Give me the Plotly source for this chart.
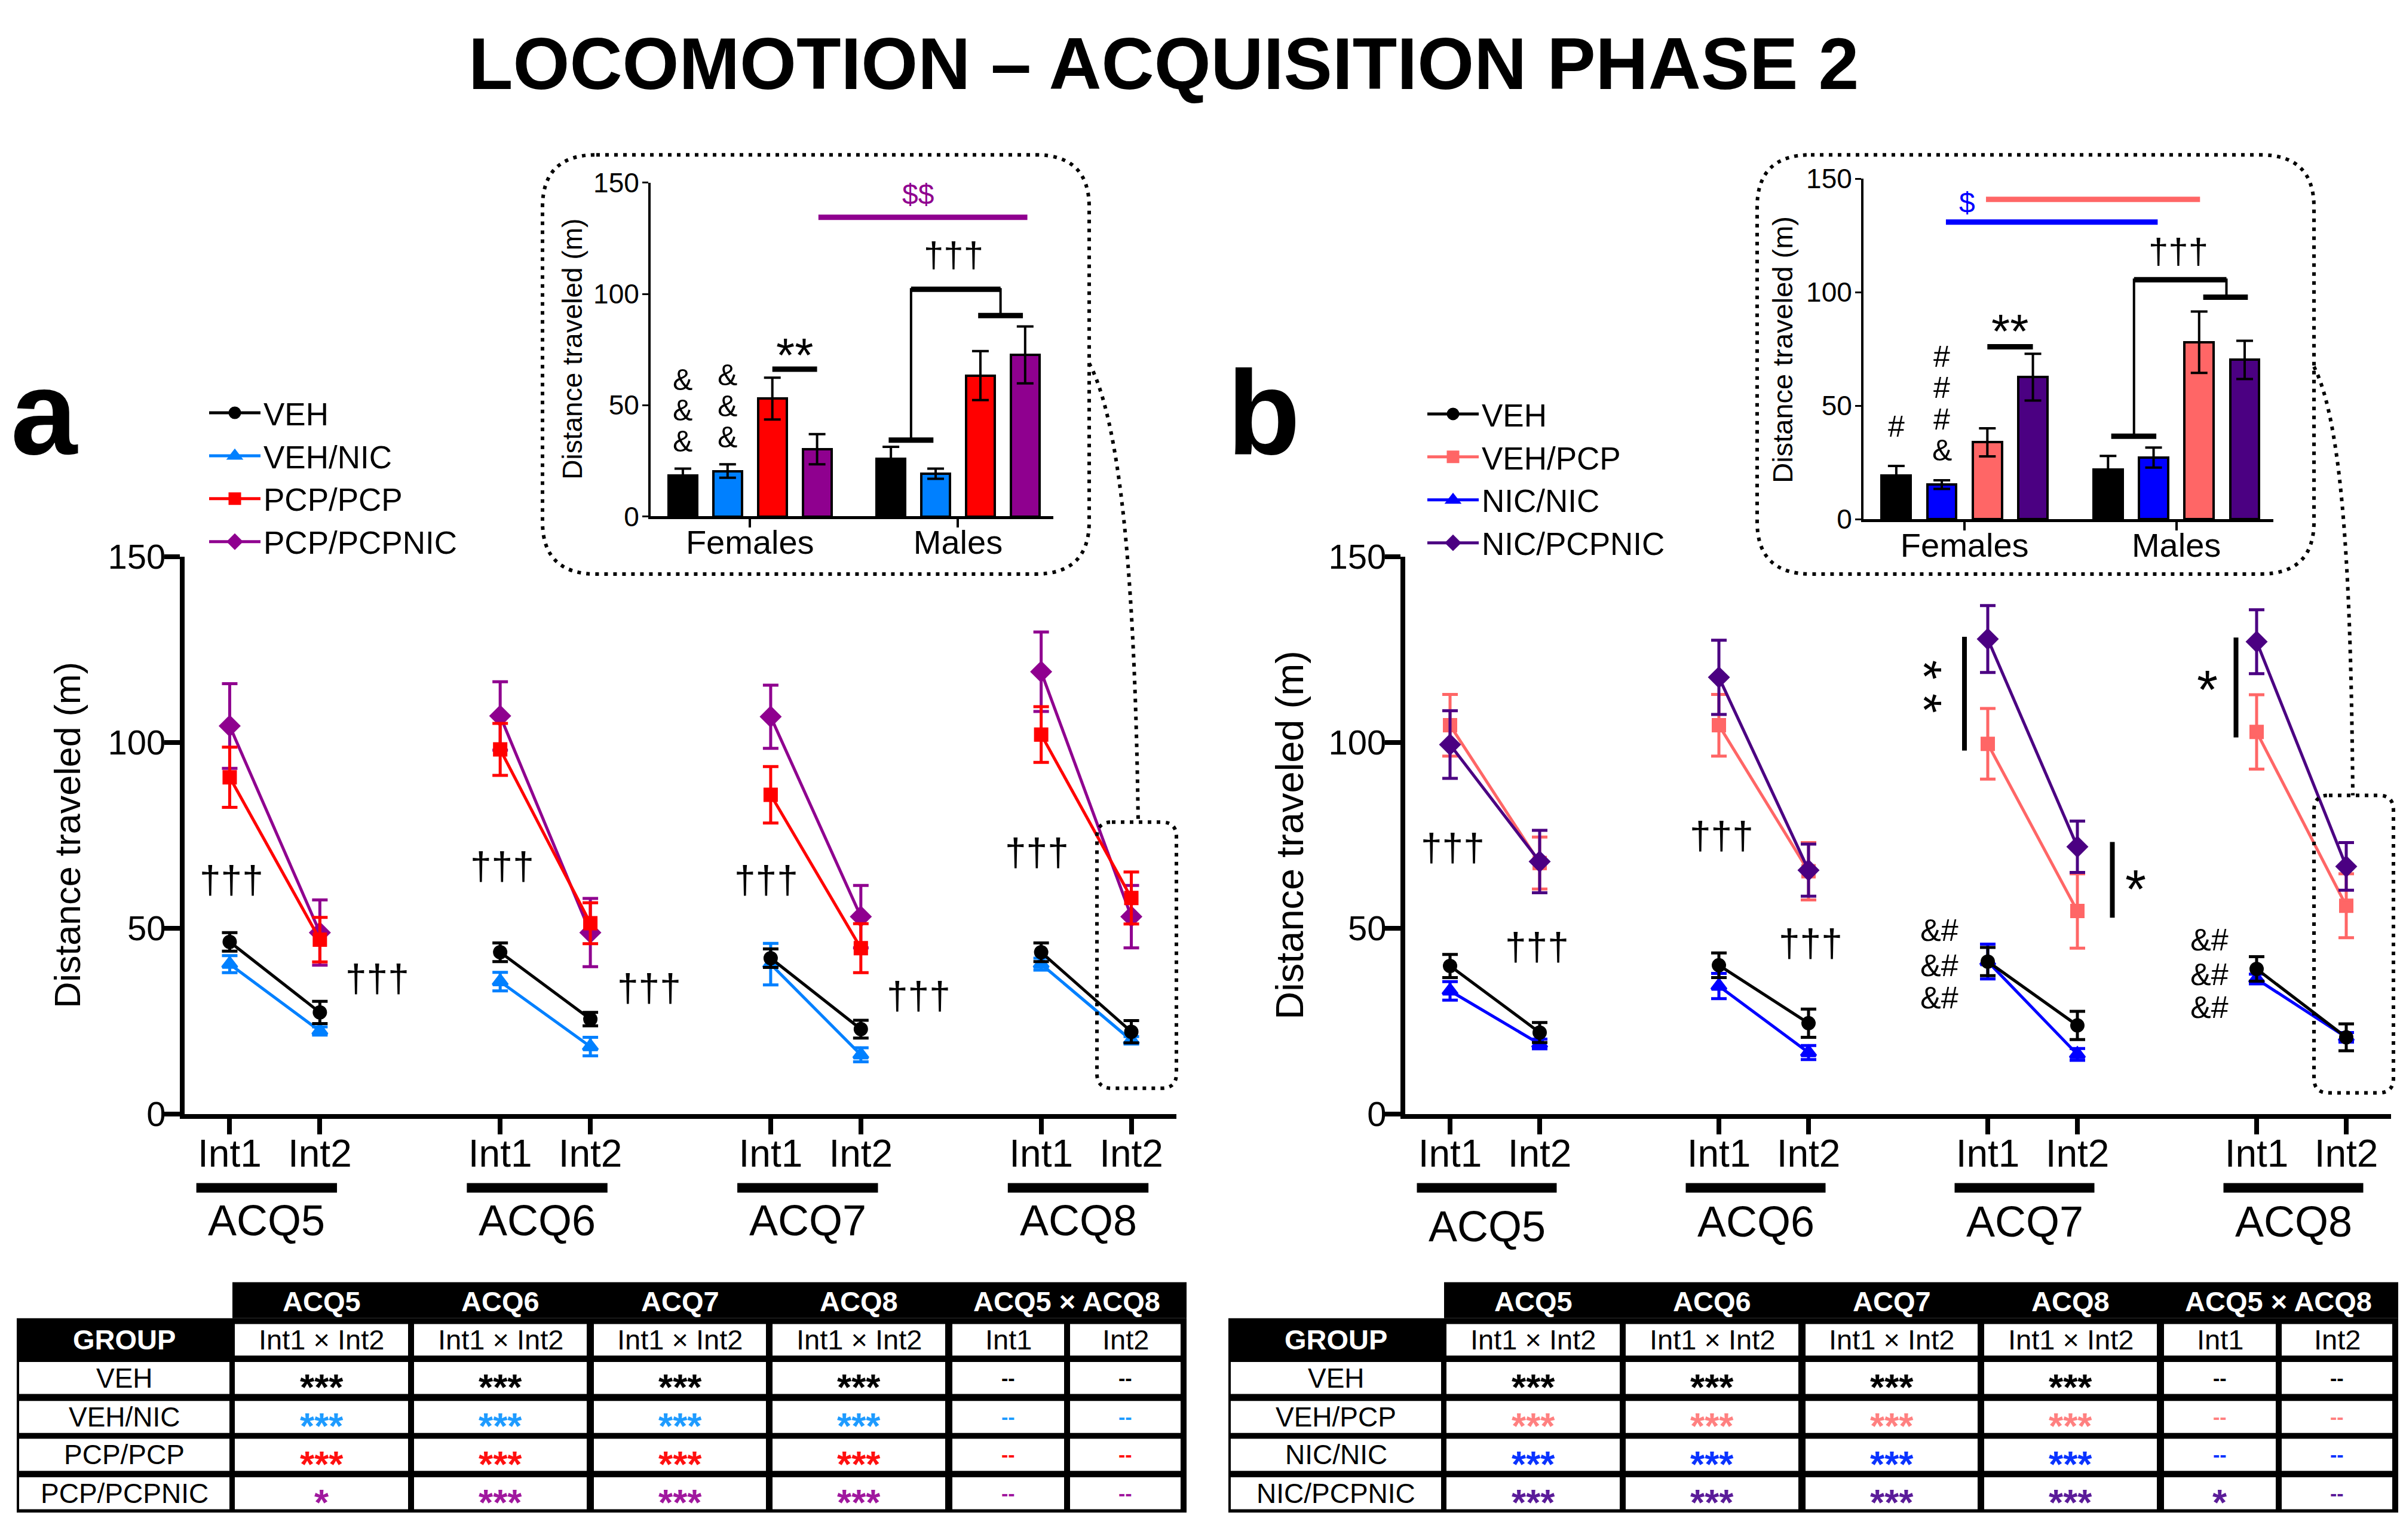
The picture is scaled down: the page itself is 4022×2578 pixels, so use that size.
import plotly.graph_objects as go

W, H = 4022, 2578
FONT = "Liberation Sans, Arial, sans-serif"


def px(x):
    return x / W


def py(y):
    return 1 - y / H


# ---------------- DATA ----------------
sessions = ["ACQ5", "ACQ6", "ACQ7", "ACQ8"]
intervals = ["Int1", "Int2"]

# panel a : values in order [ACQ5 Int1, ACQ5 Int2, ACQ6 Int1, ..., ACQ8 Int2]
a_groups = ["VEH", "VEH/NIC", "PCP/PCP", "PCP/PCPNIC"]
a_veh_mean = [46.3, 27.3, 43.5, 25.5, 41.9, 22.8, 43.5, 22.1]
a_veh_sem = [2.5, 3.0, 2.5, 1.8, 2.5, 2.4, 2.5, 3.0]
a_vehnic_mean = [40.3, 22.3, 35.6, 18.1, 40.3, 15.9, 40.3, 19.8]
a_vehnic_sem = [2.3, 1.1, 2.5, 2.5, 5.6, 1.9, 1.6, 1.0]
a_pcppcp_mean = [90.6, 46.9, 98.1, 51.3, 85.9, 44.6, 102.1, 58.1]
a_pcppcp_sem = [8.1, 6.0, 7.0, 5.5, 7.6, 6.6, 7.5, 7.0]
a_pcpnic_mean = [104.4, 48.8, 107.1, 48.8, 106.9, 53.1, 119.0, 53.1]
a_pcpnic_sem = [11.4, 8.8, 9.2, 9.2, 8.5, 8.4, 10.7, 8.4]

# panel b
b_groups = ["VEH", "VEH/PCP", "NIC/NIC", "NIC/PCPNIC"]
b_veh_mean = [39.8, 21.9, 40.0, 24.4, 41.0, 23.8, 39.0, 20.6]
b_veh_sem = [3.1, 2.7, 3.3, 3.8, 3.8, 3.8, 3.3, 3.6]
b_vehpcp_mean = [104.6, 67.5, 104.6, 65.3, 99.6, 54.6, 102.8, 56.0]
b_vehpcp_sem = [8.3, 7.0, 8.3, 7.7, 9.5, 10.0, 10.0, 8.6]
b_nicnic_mean = [33.1, 18.8, 34.4, 16.5, 41.0, 16.0, 36.3, 20.6]
b_nicnic_sem = [2.5, 1.3, 3.4, 1.9, 4.7, 1.6, 1.3, 1.3]
b_nicpcp_mean = [99.4, 67.9, 117.5, 65.6, 127.8, 71.9, 127.1, 66.6]
b_nicpcp_sem = [9.1, 8.4, 10.0, 7.0, 9.0, 6.9, 8.6, 6.4]

# insets (ACQ8 Int2 by sex) : [F: g1..g4, M: g1..g4]
inset_sexes = ["Females", "Males"]
ins_a_mean = [18.5, 20.4, 53.0, 30.2, 26.0, 19.2, 63.3, 72.6]
ins_a_sem = [3.0, 3.0, 9.4, 6.8, 5.3, 2.3, 11.0, 12.8]
ins_b_mean = [19.4, 15.3, 33.9, 62.6, 21.9, 27.2, 78.0, 70.2]
ins_b_sem = [4.1, 1.9, 6.2, 10.3, 6.0, 4.4, 13.5, 8.4]

# tables
table_cols = ["ACQ5", "ACQ6", "ACQ7", "ACQ8", "ACQ5 × ACQ8"]
table_subcols = ["Int1 × Int2", "Int1 × Int2", "Int1 × Int2", "Int1 × Int2", "Int1", "Int2"]
tab_a_groups = ["VEH", "VEH/NIC", "PCP/PCP", "PCP/PCPNIC"]
tab_a_marks = [
    ["***", "***", "***", "***", "--", "--"],
    ["***", "***", "***", "***", "--", "--"],
    ["***", "***", "***", "***", "--", "--"],
    ["*", "***", "***", "***", "--", "--"],
]
tab_b_groups = ["VEH", "VEH/PCP", "NIC/NIC", "NIC/PCPNIC"]
tab_b_marks = [
    ["***", "***", "***", "***", "--", "--"],
    ["***", "***", "***", "***", "--", "--"],
    ["***", "***", "***", "***", "--", "--"],
    ["***", "***", "***", "***", "*", "--"],
]

# ---------------- STYLE ----------------
C_BLACK = "#000000"
C_LBLUE = "#0080FF"
C_RED = "#FF0000"
C_PURPLE = "#8F008F"
C_SALMON = "#FF6666"
C_BLUE = "#0000FF"
C_INDIGO = "#4B0082"
tab_a_colors = ["#000000", "#1E9BFF", "#FF1010", "#A0189E"]
tab_b_colors = ["#000000", "#FF8080", "#0A33FF", "#5B1C99"]

session_pos = [0, 3, 6, 9]

fig = go.Figure()


def series(mean, sem):
    xs, ys, es = [], [], []
    for i, s in enumerate(session_pos):
        xs += [s, s + 1, None]
        ys += [mean[2 * i], mean[2 * i + 1], None]
        es += [sem[2 * i], sem[2 * i + 1], None]
    return xs[:-1], ys[:-1], es[:-1]


def add_line(name, mean, sem, color, symbol, size, rank, xa, ya, legend):
    xs, ys, es = series(mean, sem)
    fig.add_trace(go.Scatter(
        x=xs, y=ys, name=name, mode="lines+markers", connectgaps=False,
        line=dict(color=color, width=5),
        marker=dict(color=color, symbol=symbol, size=size, line=dict(color=color, width=5)),
        error_y=dict(type="data", array=es, color=color, thickness=5, width=13),
        xaxis=xa, yaxis=ya, legend=legend, legendrank=rank, cliponaxis=False,
    ))


add_line("VEH/NIC", a_vehnic_mean, a_vehnic_sem, C_LBLUE, "triangle-up", 21, 2, "x", "y", "legend")
add_line("VEH", a_veh_mean, a_veh_sem, C_BLACK, "circle", 19, 1, "x", "y", "legend")
add_line("PCP/PCPNIC", a_pcpnic_mean, a_pcpnic_sem, C_PURPLE, "diamond", 23, 4, "x", "y", "legend")
add_line("PCP/PCP", a_pcppcp_mean, a_pcppcp_sem, C_RED, "square", 19, 3, "x", "y", "legend")

add_line("NIC/NIC", b_nicnic_mean, b_nicnic_sem, C_BLUE, "triangle-up", 21, 3, "x2", "y2", "legend2")
add_line("VEH", b_veh_mean, b_veh_sem, C_BLACK, "circle", 19, 1, "x2", "y2", "legend2")
add_line("VEH/PCP", b_vehpcp_mean, b_vehpcp_sem, C_SALMON, "square", 19, 2, "x2", "y2", "legend2")
add_line("NIC/PCPNIC", b_nicpcp_mean, b_nicpcp_sem, C_INDIGO, "diamond", 23, 4, "x2", "y2", "legend2")

# insets
bar_pos = [0, 1, 2, 3, 4.65, 5.65, 6.65, 7.65]
sex_centers = [1.5, 6.15]
fig.add_trace(go.Bar(
    x=bar_pos, y=ins_a_mean, width=0.64,
    marker=dict(color=[C_BLACK, C_LBLUE, C_RED, C_PURPLE] * 2, line=dict(color="black", width=4)),
    error_y=dict(type="data", array=ins_a_sem, color="black", thickness=4, width=14),
    xaxis="x3", yaxis="y3", showlegend=False,
))
fig.add_trace(go.Bar(
    x=bar_pos, y=ins_b_mean, width=0.64,
    marker=dict(color=[C_BLACK, C_BLUE, C_SALMON, C_INDIGO] * 2, line=dict(color="black", width=4)),
    error_y=dict(type="data", array=ins_b_sem, color="black", thickness=4, width=14),
    xaxis="x4", yaxis="y4", showlegend=False,
))
# dummy traces for table axes
for xa, ya in [("x5", "y5"), ("x6", "y6")]:
    fig.add_trace(go.Scatter(x=[0], y=[0], mode="markers", marker=dict(opacity=0),
                             xaxis=xa, yaxis=ya, showlegend=False, hoverinfo="skip"))

shapes = []
annotations = []


def ann(text, x, y, xref="paper", yref="paper", size=40, color="black", bold=False,
        xanchor="center", yanchor="middle", angle=0, yshift=0, xshift=0):
    if bold:
        text = "<b>" + text + "</b>"
    annotations.append(dict(
        text=text, x=x, y=y, xref=xref, yref=yref, showarrow=False,
        font=dict(family=FONT, size=size, color=color), xanchor=xanchor,
        yanchor=yanchor, textangle=angle, yshift=yshift, xshift=xshift,
    ))


def star(text, x, y, xref, yref, size, color="black", bold=False):
    ann(text, x, y, xref, yref, size, color, bold=bold, yshift=-0.24 * size)


# title and panel letters
ann("LOCOMOTION – ACQUISITION PHASE 2", px(1947), py(76), size=122, bold=True)
ann("a", px(74), py(675), size=200, bold=True)
ann("b", px(2115), py(675), size=200, bold=True)

# axis titles
ann("Distance traveled (m)", px(113), py(1400), size=61, angle=-90)
ann("Distance traveled (m)", px(2159), py(1400), size=65, angle=-90)
ann("Distance traveled (m)", px(958), py(566), size=46, angle=-90)
ann("Distance traveled (m)", px(2984), py(567), size=47, angle=-90)

# session bars and labels
acq_label_y_a = [2062, 2062, 2062, 2062]
acq_label_y_b = [2072, 2064, 2064, 2064]
for xa, lab_y in [("x", acq_label_y_a), ("x2", acq_label_y_b)]:
    for s, name, ly in zip(session_pos, sessions, lab_y):
        shapes.append(dict(type="line", xref=xa, yref="paper", x0=s - 0.37, x1=s + 1.19,
                           y0=py(2006), y1=py(2006), line=dict(color="black", width=16)))
        ann(name, s + 0.41, py(ly), xref=xa, size=72)

# panel a daggers
dag_a_x = [0.02, 1.64, 3.02, 4.65, 5.95, 7.64, 8.95]
dag_a_y = [62.9, 36.4, 66.6, 33.9, 62.9, 31.7, 70.4]
for x, y in zip(dag_a_x, dag_a_y):
    ann("†††", x, y, "x", "y", size=64)

# panel b daggers
dag_b_x = [0.03, 0.97, 3.03, 4.02]
dag_b_y = [71.6, 45.0, 74.8, 45.9]
for x, y in zip(dag_b_x, dag_b_y):
    ann("†††", x, y, "x2", "y2", size=64)

# panel b "&#" marks
amp_b_x = [5.46, 8.47]
amp_b_y = [[49.4, 40.0, 31.3], [46.9, 37.6, 28.8]]
for x, ys in zip(amp_b_x, amp_b_y):
    for y in ys:
        ann("&amp;#", x, y, "x2", "y2", size=52)

# panel b star brackets
sig_lines_b = [(5.74, 97.8, 128.4), (7.39, 52.8, 73.2), (8.77, 101.3, 128.2)]
for x, y0, y1 in sig_lines_b:
    shapes.append(dict(type="line", xref="x2", yref="y2", x0=x, x1=x, y0=y0, y1=y1,
                       line=dict(color="black", width=8)))
# two stacked stars written as one vertical line of text
ann("* *", 5.41, 115.0, "x2", "y2", size=84, angle=90, xshift=-19)
star("*", 7.65, 63.8, "x2", "y2", 90)
star("*", 8.45, 117.5, "x2", "y2", 90)

# inset a annotations
for x, ys in [(0, [61.3, 47.6, 33.8]), (1, [63.6, 49.5, 35.6])]:
    for y in ys:
        ann("&amp;", x, y, "x3", "y3", size=50)
star("**", 2.5, 77.7, "x3", "y3", 80)
ann("†††", 6.05, 117.5, "x3", "y3", size=60)
ann("$$", 5.25, 144.8, "x3", "y3", size=48, color=C_PURPLE)


def hline(xref, yref, x0, x1, y, width, color="black"):
    shapes.append(dict(type="line", xref=xref, yref=yref, x0=x0, x1=x1, y0=y, y1=y,
                       line=dict(color=color, width=width)))


def bracket(xref, yref, lo_x0, lo_x1, lo_y, vx0, top_y, vx1, hi_y, hi_x0, hi_x1):
    hline(xref, yref, lo_x0, lo_x1, lo_y, 9)
    shapes.append(dict(type="path", xref=xref, yref=yref,
                       path=f"M {vx0},{lo_y} L {vx0},{top_y} L {vx1},{top_y} L {vx1},{hi_y}",
                       line=dict(color="black", width=4)))
    hline(xref, yref, vx0, vx1, top_y, 9)
    hline(xref, yref, hi_x0, hi_x1, hi_y, 9)


hline("x3", "y3", 2.0, 3.0, 66.2, 9)
bracket("x3", "y3", 4.6, 5.6, 34.3, 5.1, 102.1, 7.1, 90.3, 6.6, 7.6)
hline("x3", "y3", 3.03, 7.7, 134.5, 9, C_PURPLE)

# inset b annotations
ann("#", 0, 40.8, "x4", "y4", size=50)
for y, t in zip([71.6, 58.0, 43.9, 30.3], ["#", "#", "#", "&amp;"]):
    ann(t, 1, y, "x4", "y4", size=50)
star("**", 2.5, 87.8, "x4", "y4", 80)
ann("†††", 6.2, 118.0, "x4", "y4", size=60)
ann("$", 1.55, 139.4, "x4", "y4", size=48, color=C_BLUE)
ann("$$", 4.53, 150.9, "x4", "y4", size=48, color=C_SALMON)
hline("x4", "y4", 2.0, 3.0, 76.0, 9)
bracket("x4", "y4", 4.72, 5.71, 36.6, 5.22, 105.5, 7.25, 97.8, 6.74, 7.72)
hline("x4", "y4", 1.09, 5.74, 130.9, 9, C_BLUE)
hline("x4", "y4", 1.97, 6.67, 140.9, 9, C_SALMON)


# dotted decorations (paper coords, pixel helpers)
def rounded_rect(x0, y0, x1, y1, r):
    rx, ry = r / W, r / H
    X0, X1, Y0, Y1 = px(x0), px(x1), py(y0), py(y1)
    return (f"M {X0 + rx},{Y0} L {X1 - rx},{Y0} Q {X1},{Y0} {X1},{Y0 - ry} "
            f"L {X1},{Y1 + ry} Q {X1},{Y1} {X1 - rx},{Y1} L {X0 + rx},{Y1} "
            f"Q {X0},{Y1} {X0},{Y1 + ry} L {X0},{Y0 - ry} Q {X0},{Y0} {X0 + rx},{Y0} Z")


dot = dict(color="black", width=6, dash="6px,9px")
for (x0, y0, x1, y1, r) in [(908, 232, 1823, 952, 90), (2941, 232, 3873, 952, 90),
                             (1836, 1378, 1969, 1835, 25), (3873, 1332, 4006, 1843, 25)]:
    shapes.append(dict(type="path", xref="paper", yref="paper", path=rounded_rect(x0, y0, x1, y1, r),
                       line=dot))
for (xa, ya, xb, yb, xc, yc, xd, yd) in [(1823, 590, 1880, 700, 1900, 1000, 1905, 1378),
                                         (3873, 596, 3925, 700, 3935, 1000, 3938, 1332)]:
    shapes.append(dict(type="path", xref="paper", yref="paper",
                       path=f"M {px(xa)},{py(ya)} C {px(xb)},{py(yb)} {px(xc)},{py(yc)} {px(xd)},{py(yd)}",
                       line=dot))

# tables
col_cells = [(4, 356), (365, 655), (665, 954), (966, 1254), (1265, 1554), (1566, 1753), (1763, 1948)]
row_cells = [(72, 126), (137, 192), (204, 259), (269, 324), (335, 390)]
TAB_W, TAB_H, HEAD_X0, HEAD_H = 1958, 396, 361, 62


def draw_table(xa, ya, groups, marks, colors):
    shapes.append(dict(type="rect", xref=xa, yref=ya, x0=HEAD_X0, x1=TAB_W, y0=0, y1=HEAD_H,
                       fillcolor="black", line=dict(width=0), layer="below"))
    shapes.append(dict(type="rect", xref=xa, yref=ya, x0=0, x1=TAB_W, y0=HEAD_H, y1=TAB_H,
                       fillcolor="black", line=dict(width=0), layer="below"))
    for ri, (r0, r1) in enumerate(row_cells):
        for ci, (c0, c1) in enumerate(col_cells):
            if ri == 0 and ci == 0:
                continue
            shapes.append(dict(type="rect", xref=xa, yref=ya, x0=c0, x1=c1, y0=r0, y1=r1,
                               fillcolor="white", line=dict(width=0), layer="below"))
    for ci, name in enumerate(table_cols[:4]):
        c0, c1 = col_cells[ci + 1]
        ann(name, (c0 + c1) / 2, HEAD_H / 2 + 2, xa, ya, size=47, color="white", bold=True)
    ann(table_cols[4], (col_cells[5][0] + col_cells[6][1]) / 2, HEAD_H / 2 + 2, xa, ya,
        size=47, color="white", bold=True)
    r0, r1 = row_cells[0]
    ann("GROUP", (col_cells[0][0] + col_cells[0][1]) / 2, (r0 + r1) / 2, xa, ya, size=47,
        color="white", bold=True)
    for ci, sub in enumerate(table_subcols):
        c0, c1 = col_cells[ci + 1]
        ann(sub, (c0 + c1) / 2, (r0 + r1) / 2, xa, ya, size=47)
    for gi, g in enumerate(groups):
        r0, r1 = row_cells[gi + 1]
        ann(g, (col_cells[0][0] + col_cells[0][1]) / 2, (r0 + r1) / 2, xa, ya, size=46)
        for ci, m in enumerate(marks[gi]):
            c0, c1 = col_cells[ci + 1]
            if m == "--":
                ann("--", (c0 + c1) / 2, (r0 + r1) / 2, xa, ya, size=34, color=colors[gi], bold=True)
            else:
                star(m, (c0 + c1) / 2, (r0 + r1) / 2, xa, ya, 62, colors[gi], bold=True)


draw_table("x5", "y5", tab_a_groups, tab_a_marks, tab_a_colors)
draw_table("x6", "y6", tab_b_groups, tab_b_marks, tab_b_colors)

# ---------------- LAYOUT ----------------
tick_pos = [s + k for s in session_pos for k in (0, 1)]
tick_txt = [iv for s in session_pos for iv in intervals]

main_x = dict(range=[-0.5, 10.5], tickvals=tick_pos, ticktext=tick_txt, ticks="outside",
              ticklen=26, tickwidth=8, showline=True, linewidth=8, linecolor="black",
              tickcolor="black", showgrid=False, zeroline=False, ticklabelstandoff=-22,
              tickfont=dict(family=FONT, size=64, color="black"))
main_y = dict(range=[0, 150], tickvals=[0, 50, 100, 150], ticks="outside", ticklen=26,
              tickwidth=8, showline=True, linewidth=8, linecolor="black", tickcolor="black",
              showgrid=False, zeroline=False, ticklabelstandoff=-14,
              tickfont=dict(family=FONT, size=58, color="black"))
ins_x = dict(range=[-0.72, 8.28], tickvals=sex_centers, ticktext=inset_sexes, ticks="outside",
             ticklen=14, tickwidth=4, showline=True, linewidth=5, linecolor="black",
             tickcolor="black", showgrid=False, zeroline=False, ticklabelstandoff=-24,
             tickfont=dict(family=FONT, size=56, color="black"))
ins_y = dict(range=[0, 150], tickvals=[0, 50, 100, 150], ticks="outside", ticklen=10,
             tickwidth=3, showline=True, linewidth=4, linecolor="black", tickcolor="black",
             showgrid=False, zeroline=False, ticklabelstandoff=-4,
             tickfont=dict(family=FONT, size=46, color="black"))
hidden = dict(visible=False, showgrid=False, zeroline=False)

legend_common = dict(xanchor="left", yanchor="top", font=dict(family=FONT, size=53, color="black"),
                     itemwidth=86, bgcolor="rgba(0,0,0,0)", borderwidth=0, tracegroupgap=0,
                     traceorder="normal")

fig.update_layout(
    width=W, height=H, margin=dict(l=0, r=0, t=0, b=0, pad=0),
    paper_bgcolor="white", plot_bgcolor="white", showlegend=True,
    font=dict(family=FONT, color="black"),
    xaxis=dict(main_x, domain=[px(309), px(1969)], anchor="y"),
    yaxis=dict(main_y, domain=[py(1879), py(922)], anchor="x"),
    xaxis2=dict(main_x, domain=[px(2352), px(4002)], anchor="y2"),
    yaxis2=dict(main_y, domain=[py(1879), py(922)], anchor="x2"),
    xaxis3=dict(ins_x, domain=[px(1089), px(1763)], anchor="y3"),
    yaxis3=dict(ins_y, domain=[py(853), py(280)], anchor="x3"),
    xaxis4=dict(ins_x, domain=[px(3119), px(3805)], anchor="y4"),
    yaxis4=dict(ins_y, domain=[py(858), py(273)], anchor="x4"),
    xaxis5=dict(hidden, range=[0, TAB_W], domain=[px(28), px(1986)], anchor="y5"),
    yaxis5=dict(hidden, range=[TAB_H, 0], domain=[py(2564), py(2168)], anchor="x5"),
    xaxis6=dict(hidden, range=[0, TAB_W], domain=[px(2056), px(4014)], anchor="y6"),
    yaxis6=dict(hidden, range=[TAB_H, 0], domain=[py(2564), py(2168)], anchor="x6"),
    legend=dict(legend_common, x=px(345), y=py(633)),
    legend2=dict(legend_common, x=px(2384), y=py(635)),
    shapes=shapes, annotations=annotations, bargap=0,
)

fig.write_html("out.html", config={"displayModeBar": False},
               post_script="document.body.style.margin='0px';")
